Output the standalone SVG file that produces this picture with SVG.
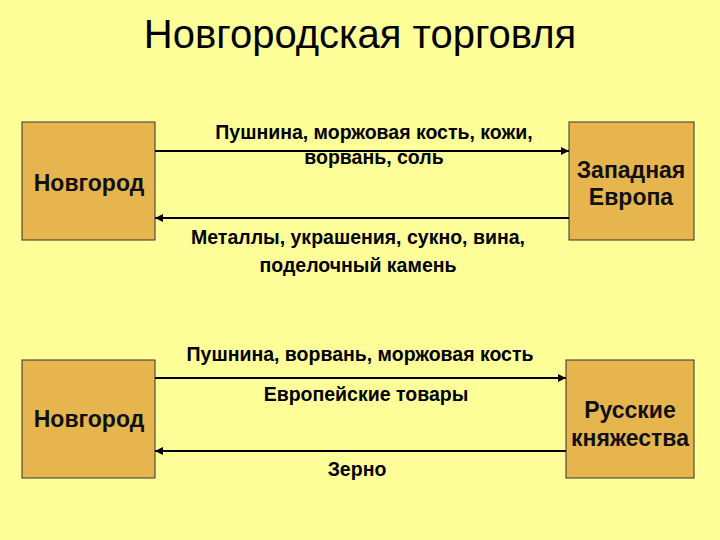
<svg xmlns="http://www.w3.org/2000/svg" width="720" height="540" viewBox="0 0 720 540">
<style>
.box{fill:#E6B54E;stroke:#333;stroke-width:1}
.bt{font-family:"Liberation Sans",Arial,sans-serif;font-size:23px;font-weight:bold;fill:#111;text-anchor:middle}
.lb{font-family:"Liberation Sans",Arial,sans-serif;font-size:19.5px;font-weight:bold;fill:#000;text-anchor:middle}
.ln{stroke:#000;stroke-width:2;fill:none}
</style>
<defs><marker id="ah" viewBox="0 0 10 10" refX="10" refY="5" markerWidth="4" markerHeight="4" orient="auto"><path d="M0,0L10,5L0,10z" fill="#000"/></marker></defs>
<rect width="720" height="540" fill="#FFFF99"/>
<text x="360" y="48" font-family="Liberation Sans,Arial,sans-serif" font-size="40" text-anchor="middle" fill="#000">Новгородская торговля</text>
<g id="n1"><rect class="box" x="22" y="122" width="133" height="118"/><text class="bt" x="89" y="191">Новгород</text></g>
<g id="n2"><rect class="box" x="569" y="122" width="125" height="118"/><text class="bt" x="631" y="178">Западная</text><text class="bt" x="631" y="205">Европа</text></g>
<g id="n3"><rect class="box" x="22" y="360" width="133" height="118"/><text class="bt" x="89" y="427">Новгород</text></g>
<g id="n4"><rect class="box" x="566" y="360" width="128" height="118"/><text class="bt" x="630" y="418">Русские</text><text class="bt" x="630" y="446">княжества</text></g>
<g id="connectors">
<line class="ln" x1="155" y1="151" x2="569" y2="151" marker-end="url(#ah)"/>
<line class="ln" x1="569" y1="218" x2="155" y2="218" marker-end="url(#ah)"/>
<line class="ln" x1="155" y1="378" x2="566" y2="378" marker-end="url(#ah)"/>
<line class="ln" x1="566" y1="451" x2="155" y2="451" marker-end="url(#ah)"/>
</g>
<text class="lb" x="374" y="139">Пушнина, моржовая кость, кожи,</text>
<text class="lb" x="374" y="164">ворвань, соль</text>
<text class="lb" x="358" y="244">Металлы, украшения, сукно, вина,</text>
<text class="lb" x="358" y="272">поделочный камень</text>
<text class="lb" x="360" y="361">Пушнина, ворвань, моржовая кость</text>
<text class="lb" x="366" y="401">Европейские товары</text>
<text class="lb" x="357" y="476">Зерно</text>
</svg>
